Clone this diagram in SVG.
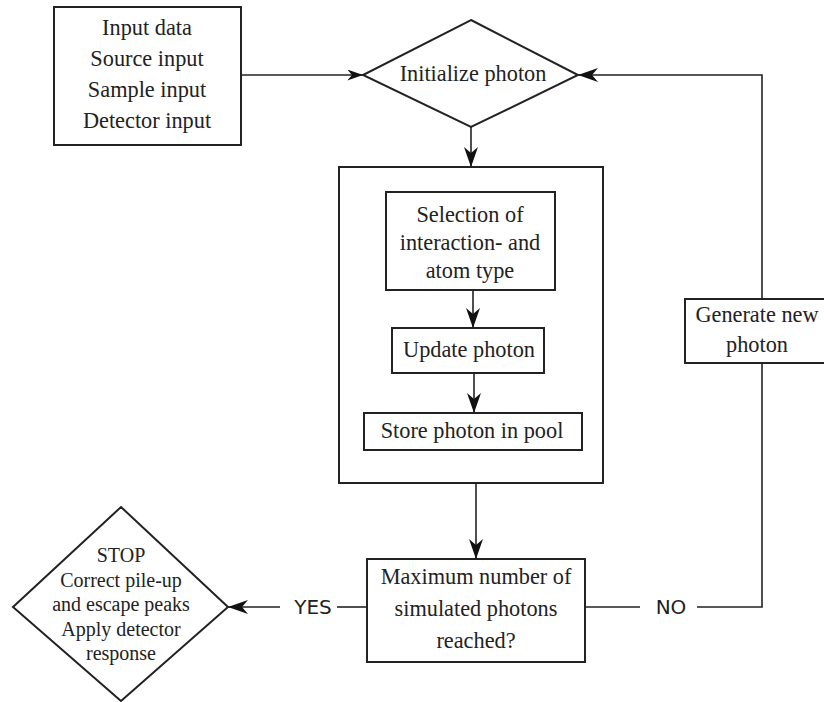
<svg xmlns="http://www.w3.org/2000/svg" width="824" height="702" viewBox="0 0 824 702">
<style>
.box{fill:#fff;stroke:#222;stroke-width:2}
.t{font-family:"Liberation Serif","Times New Roman","DejaVu Serif","Noto Serif",serif;font-size:22.3px;fill:#222;text-anchor:middle}
.ts{font-family:"Liberation Serif","Times New Roman","DejaVu Serif","Noto Serif",serif;font-size:20px;fill:#222;text-anchor:middle}
.lbl{font-family:"DejaVu Sans",sans-serif;font-size:20px;fill:#222;text-anchor:middle}
.c{fill:none;stroke:#222;stroke-width:1.6}
.a{marker-end:url(#arr)}
</style>
<defs>
<marker id="arr" viewBox="0 0 20 14" refX="20" refY="7" markerWidth="20" markerHeight="14" markerUnits="userSpaceOnUse" orient="auto">
<path d="M0,0 L20,7 L0,14 L6,7 Z" fill="#111"/>
</marker>
<marker id="arrs" viewBox="0 0 20 14" refX="20" refY="7" markerWidth="17" markerHeight="11" markerUnits="userSpaceOnUse" orient="auto">
<path d="M0,0 L20,7 L0,14 L6,7 Z" fill="#111"/>
</marker>
</defs>
<g id="input">
<rect class="box" x="54" y="7" width="187" height="138"/>
<text class="t" x="147" y="35">Input data</text>
<text class="t" x="147" y="66">Source input</text>
<text class="t" x="147" y="97">Sample input</text>
<text class="t" x="147" y="128">Detector input</text>
</g>
<g id="init">
<polygon class="box" points="471,20 578,75 471,127 363,75"/>
<text class="t" x="473" y="81">Initialize photon</text>
</g>
<g id="loop">
<rect class="box" x="339" y="167" width="264" height="316"/>
</g>
<g id="selection">
<rect class="box" x="386" y="192" width="169" height="98"/>
<text class="t" x="470" y="222">Selection of</text>
<text class="t" x="470" y="250">interaction- and</text>
<text class="t" x="470" y="278">atom type</text>
</g>
<g id="update">
<rect class="box" x="392" y="328" width="152" height="45"/>
<text class="t" x="469" y="357">Update photon</text>
</g>
<g id="store">
<rect class="box" x="364" y="413" width="218" height="37"/>
<text class="t" x="472" y="438">Store photon in pool</text>
</g>
<g id="max">
<rect class="box" x="367" y="559" width="218" height="103"/>
<text class="t" x="476" y="584">Maximum number of</text>
<text class="t" x="476" y="616">simulated photons</text>
<text class="t" x="476" y="648">reached?</text>
</g>
<g id="stop">
<polygon class="box" points="121,507 228,607 121,701 13,607"/>
<text class="ts" x="121" y="562">STOP</text>
<text class="ts" x="121" y="587">Correct pile-up</text>
<text class="ts" x="121" y="611">and escape peaks</text>
<text class="ts" x="121" y="636">Apply detector</text>
<text class="ts" x="121" y="660">response</text>
</g>
<g id="generate">
<rect class="box" x="685" y="299" width="150" height="64"/>
<text class="t" x="757" y="322">Generate new</text>
<text class="t" x="757" y="352">photon</text>
</g>
<g id="connectors">
<path class="c" d="M241,75 L363,75" marker-end="url(#arrs)"/>
<path class="c a" d="M471,127 L471,167"/>
<path class="c a" d="M473,290 L473,328"/>
<path class="c a" d="M474,373 L474,413"/>
<path class="c a" d="M476,483 L476,559"/>
<path class="c" d="M367,607 L337,607"/>
<path class="c a" d="M280,607 L228,607"/>
<path class="c" d="M585,607 L640,607"/>
<path class="c" d="M697,607 L762,607 L762,363"/>
<path class="c a" d="M762,299 L762,75 L578,75"/>
<text class="lbl" x="313" y="614">YES</text>
<text class="lbl" x="671" y="614">NO</text>
</g>
</svg>
